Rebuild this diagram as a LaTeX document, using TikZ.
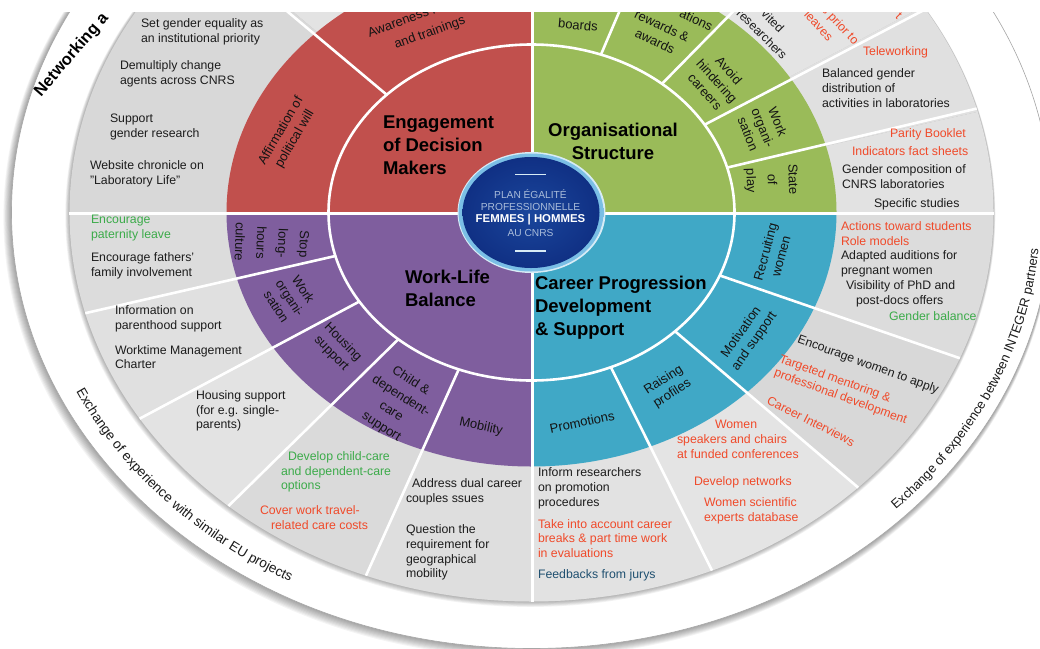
\documentclass[tikz,border=0pt]{standalone}
\usepackage{fontspec}
\setmainfont{Liberation Sans}
\usetikzlibrary{decorations.text}
\definecolor{wred}{HTML}{C1504D}
\definecolor{wgreen}{HTML}{9ABB59}
\definecolor{wpurple}{HTML}{7F5E9E}
\definecolor{wteal}{HTML}{40A8C6}
\definecolor{tred}{HTML}{F04A2A}
\definecolor{tgreen}{HTML}{3CAB4A}
\definecolor{tblack}{HTML}{1C1C1C}
\definecolor{tblue}{HTML}{1F5070}
\definecolor{capline}{HTML}{A9BCDA}
\definecolor{rimout}{HTML}{D8ECF6}
\definecolor{rimin}{HTML}{3F8FCB}
\definecolor{rimedge}{HTML}{7CC0E6}
\definecolor{coremid}{HTML}{1A469C}
\definecolor{coreedge}{HTML}{103084}
\tikzset{
  x=1pt,y=1pt,
  txt/.style={inner sep=0pt,outer sep=0pt,font=\fontsize{12.3}{14.8}\selectfont,text=tblack,align=left,anchor=west},
  redtxt/.style={txt,text=tred},
  greentxt/.style={txt,text=tgreen},
  ringtxt/.style={inner sep=0pt,outer sep=0pt,font=\fontsize{13}{16}\selectfont,text=black!92,align=center},
  maintxt/.style={inner sep=0pt,outer sep=0pt,font=\fontsize{18.5}{23}\selectfont\bfseries,text=black,align=left},
  captxt/.style={inner sep=0pt,outer sep=0pt,font=\fontsize{10.2}{13}\selectfont,text=capline,align=center},
  spokeline/.style={draw=white,line width=2.6pt},
}
\begin{document}
\begin{tikzpicture}
\useasboundingbox (0,0) rectangle (1040,-648);
\fill[white] (0,0) rectangle (1040,-648);
\begin{scope}
\clip (0,-12) rectangle (1040,-648);
\begin{scope}[shift={(531.5,-212.5)}]
  % outer white ring with soft shadow
  \foreach \i in {1,...,9} {
    \fill[black,opacity=0.045] (-\i*0.4,-\i*0.5) ellipse [x radius=520+\i*0.5,y radius=436+\i*0.5];
  }
  \fill[white] (0,0) ellipse [x radius=520,y radius=436];
  \draw[black!35,line width=0.6pt] (0,0) ellipse [x radius=520,y radius=436];
  % shadow of the grey disc
  \foreach \i in {1,...,6} {
    \fill[black,opacity=0.05] (-\i*0.2,-\i*0.4) ellipse [x radius=462+\i*0.5,y radius=389+\i*0.5];
  }
  % grey sectors
  \foreach \a/\b/\c in {90/135/E3E3E3,135/180/D8D8D8,180/195/DCDCDC,195/212/E0E0E0,212/229/E3E3E3,229/249/DADADA,249/270/DEDEDE,270/293/E2E2E2,293/315/E4E4E4,315/338/D8D8D8,338/360/DCDCDC,0/15/E2E2E2,15/32/E0E0E0,32/50/E4E4E4,50/90/E6E6E6} {
    \definecolor{sect}{HTML}{\c}
    \fill[sect] (0,0) -- ({462*cos(\a)},{389*sin(\a)}) arc[start angle=\a,end angle=\b,x radius=462,y radius=389] -- cycle;
  }
  % coloured quadrants
  \fill[wred] (0,0) -- (0,254) arc[start angle=90,end angle=180,x radius=305,y radius=254] -- cycle;
  \fill[wgreen] (0,0) -- (305,0) arc[start angle=0,end angle=90,x radius=305,y radius=254] -- cycle;
  \fill[wteal] (0,0) -- (0,-254) arc[start angle=270,end angle=360,x radius=305,y radius=254] -- cycle;
  \fill[wpurple] (0,0) -- (-305,0) arc[start angle=180,end angle=270,x radius=305,y radius=254] -- cycle;
  % spokes
  \foreach \a in {135.5,70,50,31.5,15.5,195,212,229,249,-22,-45,-67} {
    \draw[spokeline] ({203*cos(\a)},{168*sin(\a)}) -- ({462*cos(\a)},{389*sin(\a)});
  }
  \draw[spokeline,line width=3pt] (-463,-0.8) -- (462,-0.8);
  \draw[spokeline,line width=3.4pt] (1,220) -- (1,-389);
  \draw[spokeline] (0,0) ellipse [x radius=203,y radius=168];
  % centre
  \fill[rimout] (0,0) ellipse [x radius=74,y radius=60.5];
  \shade[inner color=rimin,outer color=rimedge] (-0.5,0) ellipse [x radius=72.5,y radius=59];
  \shade[inner color=coremid,outer color=coreedge] (-0.5,0) ellipse [x radius=68.5,y radius=55.5];
\end{scope}

% centre labels
\coordinate (ruleAa) at (515,-174.5);
\coordinate (ruleAb) at (546,-174.5);
\coordinate (ruleBa) at (515,-251);
\coordinate (ruleBb) at (546,-251);
\draw[rimout,line width=1.2pt] (ruleAa) -- (ruleAb);
\draw[rimout,line width=1.2pt] (ruleBa) -- (ruleBb);
\node[captxt] (c1) at (530.5,-194) {PLAN ÉGALITÉ};
\node[captxt] (c2) at (530.5,-207) {PROFESSIONNELLE};
\node[captxt,text=white,font=\fontsize{11.4}{13}\selectfont\bfseries] (c3) at (530.5,-220) {FEMMES | HOMMES};
\node[captxt] (c4) at (530.5,-233) {AU CNRS};

% main labels
\node[maintxt,anchor=west] (m1) at (383,-145) {Engagement\\of Decision\\Makers};
\node[maintxt,align=center] (m2) at (613,-141.5) {Organisational\\Structure};
\node[maintxt,anchor=west] (m3) at (405,-288.5) {Work-Life\\Balance};
\node[maintxt,anchor=west] (m4) at (535,-308) {Career Progression\\Development\\\& Support};

% ring labels
\node[ringtxt,rotate=20] (r1) at (430,-33) {and trainings};
\node[ringtxt,rotate=20,anchor=west] (r2) at (368,-33) {Awareness r};
\node[ringtxt,rotate=60] (r3) at (288,-135) {Affirmation of\\political will};
\node[ringtxt,rotate=-5] (r4) at (578,-25) {boards};
\node[ringtxt,rotate=-25] (r5) at (662,-26) {rewards \&};
\node[ringtxt,rotate=-25] (r6) at (655,-41) {awards};
\node[ringtxt,rotate=-25,anchor=east] (r7) at (712,-27) {ations};
\node[ringtxt,rotate=-48] (r8) at (717,-81) {Avoid\\hindering\\careers};
\node[ringtxt,rotate=-68] (r9) at (763,-128) {Work\\organi-\\sation};
\node[ringtxt,rotate=-88,font=\fontsize{13}{21}\selectfont] (r10) at (771,-180) {State\\of\\play};
\node[ringtxt,rotate=-92,font=\fontsize{13}{21.5}\selectfont] (r11) at (272,-243) {Stop\\long-\\hours\\culture};
\node[ringtxt,rotate=-57] (r12) at (290,-298) {Work\\organi-\\sation};
\node[ringtxt,rotate=-46] (r13) at (337,-348) {Housing\\support};
\node[ringtxt,rotate=-33,font=\fontsize{13}{18}\selectfont] (r14) at (396,-404) {Child \&\\dependent-\\care\\support};
\node[ringtxt,rotate=-12] (r15) at (481,-427) {Mobility};
\node[ringtxt,rotate=75] (r16) at (773,-254) {Recruiting\\women};
\node[ringtxt,rotate=55] (r17) at (748,-337) {Motivation\\and support};
\node[ringtxt,rotate=33] (r18) at (668,-387) {Raising\\profiles};
\node[ringtxt,rotate=12] (r19) at (582,-422) {Promotions};

% outer labels, upper left
\node[txt] (a1) at (141,-32) {Set gender equality as\\an institutional priority};
\node[txt] (a2) at (120,-74) {Demultiply change\\agents across CNRS};
\node[txt] (a3) at (110,-127) {Support\\gender research};
\node[txt] (a4) at (90,-174) {Website chronicle on\\"Laboratory Life"};
% lower left
\node[greentxt] (b1) at (91,-228) {Encourage\\paternity leave};
\node[txt] (b2) at (91,-266) {Encourage fathers'\\family involvement};
\node[txt] (b3) at (115,-319) {Information on\\parenthood support};
\node[txt] (b4) at (115,-357) {Worktime Management\\Charter};
\node[txt] (b5) at (196,-411) {Housing support\\(for e.g. single-\\parents)};
\node[greentxt] (b6) at (281,-472) {\hspace*{7pt}Develop child-care\\and dependent-care\\options};
\node[redtxt] (b7) at (260,-517.5) {Cover work travel-\\\hspace*{11pt}related care costs};
\node[txt] (b8) at (406,-491.5) {\hspace*{6pt}Address dual career\\couples ssues};
\node[txt] (b9) at (406,-552.5) {Question the\\requirement for\\geographical\\mobility};
% lower right
\node[txt] (d1) at (538,-488.5) {Inform researchers\\on promotion\\procedures};
\node[redtxt] (d2) at (538,-538.5) {Take into account career\\breaks \& part time work\\in evaluations};
\node[txt,text=tblue] (d3) at (538,-575) {Feedbacks from jurys};
\node[redtxt] (d4) at (677,-439.5) {\hspace*{38pt}Women\\speakers and chairs\\at funded conferences};
\node[redtxt] (d5) at (694,-482) {Develop networks};
\node[redtxt] (d6) at (704,-510.5) {Women scientific\\experts database};
\node[redtxt,rotate=-27,anchor=center] (d7) at (811,-421) {Career Interviews};
\node[txt,rotate=-20,anchor=center] (d8) at (868,-365) {Encourage women to apply};
\node[redtxt,rotate=-20,anchor=center] (d9) at (843,-390) {Targeted mentoring \&\\professional development};
% right
\node[redtxt] (e1) at (841,-226) {Actions toward students};
\node[redtxt] (e2) at (841,-241) {Role models};
\node[txt] (e3) at (841,-263.5) {Adapted auditions for\\pregnant women};
\node[txt] (e4) at (846,-286) {Visibility of PhD and};
\node[txt] (e5) at (856,-301) {post-docs offers};
\node[greentxt] (e6) at (889,-316) {Gender balance};
% upper right
\node[txt] (f1) at (874,-204) {Specific studies};
\node[txt] (f2) at (842,-177) {Gender composition of\\CNRS laboratories};
\node[redtxt] (f3) at (852,-151) {Indicators fact sheets};
\node[redtxt] (f4) at (890,-134) {Parity Booklet};
\node[txt] (f5) at (822,-88) {Balanced gender\\distribution of\\activities in laboratories};
\node[redtxt] (f6) at (863,-52) {Teleworking};
\node[redtxt,rotate=-47,anchor=east] (f7) at (856,-43) {s prior to};
\node[redtxt,rotate=-47,anchor=east] (f8) at (831,-39) {leaves};
\node[txt,rotate=-45,anchor=east] (f9) at (785,-57) {researchers};
\node[txt,rotate=-45,anchor=east] (f10) at (782,-30) {vited};
\node[redtxt,rotate=-45,anchor=east] (f11) at (900,-17) {t};

% text in the white band
\node[inner sep=0pt,outer sep=0pt,rotate=49,anchor=base west,font=\fontsize{16.5}{18}\selectfont\bfseries] (g1) at (41,-97) {Networking a};
\coordinate (wheel) at (531.5,-212.5);
\path[postaction={decorate},decoration={text along path,text align={center},
  text={|\fontsize{13.6}{15}\selectfont\color{tblack}|Exchange of experience with similar EU projects}}]
  (wheel) ++({503*cos(201.5)},{421*sin(201.5)}) arc[start angle=201.5,end angle=244.5,x radius=503,y radius=421];
\path[postaction={decorate},decoration={text along path,text align={center},
  text={|\fontsize{13}{15}\selectfont\color{tblack}|Exchange of experience between INTEGER partners}}]
  (wheel) ++({509*cos(-46)},{426*sin(-46)}) arc[start angle=-46,end angle=-3,x radius=509,y radius=426];
\end{scope}
\end{tikzpicture}
\end{document}
